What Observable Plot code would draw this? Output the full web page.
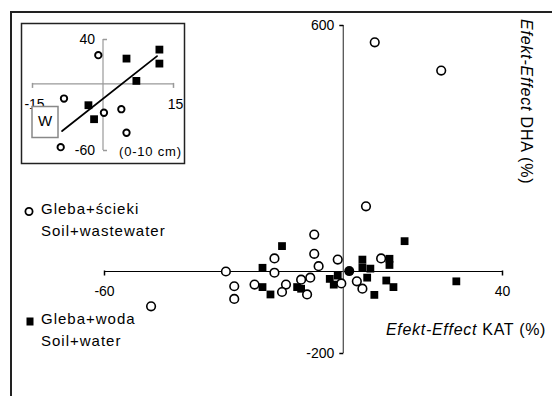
<!DOCTYPE html>
<html><head><meta charset="utf-8">
<script src="https://cdn.jsdelivr.net/npm/d3@7"></script>
<script src="https://cdn.jsdelivr.net/npm/@observablehq/plot@0.6"></script>
<style>
html,body{margin:0;padding:0;background:#fff;}
#wrap{position:relative;width:552px;height:396px;overflow:hidden;font-family:"Liberation Sans",Arial,sans-serif;}
#wrap > svg, #wrap > div{position:absolute;}
</style></head><body><div id="wrap"></div>
<script>
// ---- main chart data: KAT effect (x, %) vs DHA effect (y, %) ----
const wasteX = [-48.3,-29.5,-27.4,-27.4,-22.3,-17.3,-17.3,-14.4,-15.4,-7.3,-7.3,-6.2,-8.3,-10.6,-9.1,-1.4,-0.5,3.4,4.8,9.5,7.9,24.6,5.7];
const wasteY = [-85,0,-36,-67,-32,32,-3,-32,-50,90,43,13,-15,-20,-56,29,-29,-24,-42,32,559,490,159];
const waterX = [-15.4,-20.3,-20.3,-18.3,-11.6,-10.6,-3.4,-2.4,-1.4,4.8,4.8,6.8,6.0,11.6,11.6,10.8,12.6,7.8,15.4,28.4];
const waterY = [62,9,-38,-56,-38,-42,-18,-32,-10,29,10,7,-15,31,16,-22,-38,-57,74,-24];
const overlapX = [1.5];
const overlapY = [1];
const mainXTicks = [-60, 40];
const mainYTicks = [-200, 600];

// ---- inset (W, 0-10 cm) ----
const insetWasteX = [-1.0,-8.3,0.2,3.9,5.0,-9.0];
const insetWasteY = [25.9,-13.2,-26,-22.8,-44,-57];
const insetWaterX = [5.0,12.0,12.0,7.1,-3.1,-1.9];
const insetWaterY = [22.8,30.9,18.3,2.7,-19.2,-31.8];
const trendX = [-8.7, 11.5];
const trendY = [-42.5, 25];
const insetXTicks = [-15, 15];
const insetYTicks = [-60, 40];

// ---- texts ----
const legendWaste = ["Gleba+ścieki", "Soil+wastewater"];
const legendWater = ["Gleba+woda", "Soil+water"];
const titleItalic = "Efekt-Effect";
const xTitleRest = " KAT (%)";
const yTitleRest = " DHA (%)";
const insetTag = "W";
const insetDepth = "(0-10 cm)";

const pts = (xs, ys) => xs.map((x, i) => ({x, y: ys[i]}));
const tickDown = {draw(c){ c.moveTo(0,-1); c.lineTo(0,4); }};
const tickLeft = {draw(c){ c.moveTo(0,0); c.lineTo(-4,0); }};
const tickRight = {draw(c){ c.moveTo(0,0); c.lineTo(4,0); }};
const fontFamily = "'Liberation Sans', Arial, sans-serif";

const wrap = document.getElementById("wrap");

const main = Plot.plot({
  width: 552, height: 396,
  marginLeft: 104, marginRight: 50, marginTop: 25, marginBottom: 43,
  x: {domain: [-60, 40], axis: null},
  y: {domain: [-200, 600], axis: null},
  style: {fontFamily, background: "transparent", color: "#000"},
  marks: [
    Plot.ruleY([0], {stroke: "#000", strokeWidth: 1}),
    Plot.ruleX([0], {stroke: "#555", strokeWidth: 1.3}),
    Plot.dot(mainXTicks, {x: d => d, y: 0, symbol: tickDown, stroke: "#000", fill: "none"}),
    Plot.dot(mainYTicks, {x: 0, y: d => d, symbol: tickLeft, stroke: "#000", fill: "none"}),
    Plot.text(mainXTicks, {x: d => d, y: 0, dy: 20, text: d => String(d), fontSize: 14, fill: "#000"}),
    Plot.text(mainYTicks, {x: 0, y: d => d, dx: -9, textAnchor: "end", text: d => String(d), fontSize: 14, fill: "#000"}),
    Plot.dot(pts(waterX, waterY), {x: "x", y: "y", symbol: "square", r: 4.4, fill: "#000", stroke: "none"}),
    Plot.dot(pts(wasteX, wasteY), {x: "x", y: "y", symbol: "circle", r: 4.3, fill: "#fff", stroke: "#000", strokeWidth: 1.6}),
    Plot.dot(pts(overlapX, overlapY), {x: "x", y: "y", r: 5, fill: "#000", stroke: "none"})
  ]
});
main.style.left = "0px"; main.style.top = "0px";
wrap.appendChild(main);

const inset = Plot.plot({
  width: 164, height: 141,
  marginLeft: 11, marginRight: 12, marginTop: 16, marginBottom: 14,
  x: {domain: [-15, 15], axis: null},
  y: {domain: [-60, 40], axis: null},
  style: {fontFamily, background: "#fff", color: "#000"},
  marks: [
    Plot.ruleY([0], {stroke: "#999", strokeWidth: 1.2}),
    Plot.ruleX([0], {stroke: "#999", strokeWidth: 1.2}),
    Plot.dot(insetXTicks, {x: d => d, y: 0, symbol: tickDown, stroke: "#999", fill: "none"}),
    Plot.dot(insetYTicks, {x: 0, y: d => d, symbol: tickRight, stroke: "#999", fill: "none"}),
    Plot.text(insetXTicks, {x: d => d, y: 0, dx: 2, dy: 21, text: d => String(d), fontSize: 14, fill: "#000"}),
    Plot.text(insetYTicks, {x: 0, y: d => d, dx: -8, textAnchor: "end", text: d => String(d), fontSize: 14, fill: "#000"}),
    Plot.line(pts(trendX, trendY), {x: "x", y: "y", stroke: "#000", strokeWidth: 1.8}),
    Plot.dot(pts(insetWaterX, insetWaterY), {x: "x", y: "y", symbol: "square", r: 4.4, fill: "#000", stroke: "none"}),
    Plot.dot(pts(insetWasteX, insetWasteY), {x: "x", y: "y", symbol: "circle", r: 3.2, fill: "#fff", stroke: "#000", strokeWidth: 1.9})
  ]
});
inset.style.left = "21px"; inset.style.top = "23px";
wrap.appendChild(inset);

// overlay: frames, legend, titles
const ov = d3.create("svg").attr("width", 552).attr("height", 396)
  .style("left", "0px").style("top", "0px")
  .style("font-family", fontFamily);
ov.append("rect").attr("x", 11).attr("y", 12).attr("width", 600).attr("height", 500)
  .attr("fill", "none").attr("stroke", "#222").attr("stroke-width", 2);
ov.append("rect").attr("x", 21.5).attr("y", 23.5).attr("width", 163).attr("height", 140)
  .attr("fill", "none").attr("stroke", "#222").attr("stroke-width", 1.5);
ov.append("rect").attr("x", 32).attr("y", 106.5).attr("width", 26).attr("height", 31)
  .attr("fill", "#fff").attr("stroke", "#888").attr("stroke-width", 1.5);
ov.append("text").attr("x", 45).attr("y", 122.5).attr("text-anchor", "middle")
  .attr("dominant-baseline", "middle").attr("font-size", 15).text(insetTag);
ov.append("text").attr("x", 119).attr("y", 153).attr("dominant-baseline", "middle")
  .attr("font-size", 13).attr("letter-spacing", 0.8).text(insetDepth);

// legend
ov.append("circle").attr("cx", 29).attr("cy", 211.5).attr("r", 3.6)
  .attr("fill", "#fff").attr("stroke", "#000").attr("stroke-width", 1.8);
ov.append("rect").attr("x", 26.5).attr("y", 317.5).attr("width", 7).attr("height", 8).attr("fill", "#000");
const leg = (lines, y0) => lines.forEach((t, i) =>
  ov.append("text").attr("x", 41).attr("y", y0 + i * 22).attr("dominant-baseline", "middle")
    .attr("font-size", 15).attr("letter-spacing", 1).text(t));
leg(legendWaste, 210.5);
leg(legendWater, 320.5);

// axis titles
const xt = ov.append("text").attr("x", 386).attr("y", 331).attr("dominant-baseline", "middle")
  .attr("font-size", 16).attr("letter-spacing", 0.7);
xt.append("tspan").attr("font-style", "italic").text(titleItalic);
xt.append("tspan").text(xTitleRest);
const yt = ov.append("text").attr("transform", "translate(525,19) rotate(90)")
  .attr("dominant-baseline", "middle").attr("font-size", 16).attr("letter-spacing", 0.8);
yt.append("tspan").attr("font-style", "italic").text(titleItalic);
yt.append("tspan").text(yTitleRest);

wrap.appendChild(ov.node());
</script></body></html>
